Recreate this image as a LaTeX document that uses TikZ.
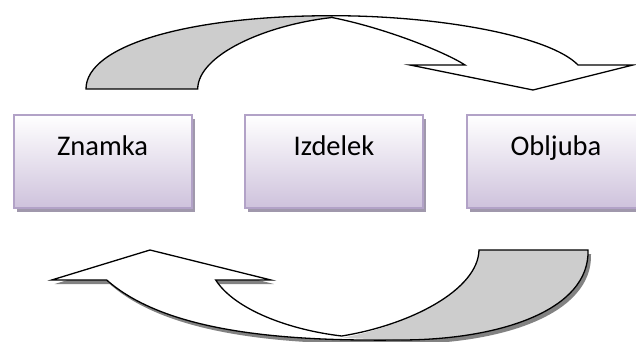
\documentclass[tikz,border=0pt]{standalone}
\usepackage{fontspec}
\setmainfont{Carlito}
\usetikzlibrary{shadows}

\definecolor{boxedge}{RGB}{178,162,199}
\definecolor{boxlow}{RGB}{206,194,220}
\definecolor{boxshade}{RGB}{160,152,172}
\definecolor{ribbon}{RGB}{205,205,205}
\definecolor{arrowshade}{RGB}{130,130,130}

\tikzset{
  stagebox/.style={
    draw=boxedge, line width=2pt, top color=white, bottom color=boxlow,
    general shadow={fill=boxshade, shadow xshift=3pt, shadow yshift=-4pt},
    inner sep=0pt, minimum width=178pt, minimum height=93.3pt,
    text height=20pt, text depth=33.3pt,
    font=\fontsize{28.5}{34}\selectfont, text=black},
  outline/.style={draw=black, line width=1.3pt, line join=miter},
}

\begin{document}
\begin{tikzpicture}[x=1pt,y=-1pt]
  \clip (0,0) rectangle (636,342);
  \fill[white] (0,0) rectangle (636,342);

  % ---- upper curved arrow (left to right) ----
  % back face of the ribbon
  \fill[ribbon] (86,89) -- (197.7,89)
      .. controls (198,55) and (265,25) .. (332,17.5)
      -- (332,15.7)
      .. controls (190,15.7) and (86,45) .. (86,89) -- cycle;
  % front face with the head
  \fill[white] (332,15.7)
      .. controls (440,15.7) and (550,36) .. (578,65)
      -- (633,65) -- (533,90) -- (410,65) -- (465,65)
      .. controls (445,52) and (385,28) .. (332,17.5) -- cycle;
  % outlines
  \draw[outline] (86,89) -- (197.7,89)
      .. controls (198,55) and (265,25) .. (332,17.5)
      .. controls (385,28) and (445,52) .. (465,65)
      -- (410,65) -- (533,90) -- (633,65) -- (578,65)
      .. controls (550,36) and (440,15.7) .. (332,15.7)
      .. controls (190,15.7) and (86,45) .. (86,89) -- cycle;

  % ---- lower curved arrow (right to left) ----
  \fill[arrowshade, xshift=3pt, yshift=-4pt] (479,250) -- (588,250)
      .. controls (590,310) and (500,340) .. (400,340)
      .. controls (300,341) and (170,336) .. (106.7,280)
      -- (51.7,280) -- (150,250) -- (271,280) -- (215.7,280)
      .. controls (235,310) and (290,330) .. (341.7,336)
      .. controls (410,325) and (478,290) .. (479,250) -- cycle;
  % whole ribbon in white
  \fill[white] (479,250) -- (588,250)
      .. controls (590,310) and (500,340) .. (400,340)
      .. controls (300,341) and (170,336) .. (106.7,280)
      -- (51.7,280) -- (150,250) -- (271,280) -- (215.7,280)
      .. controls (235,310) and (290,330) .. (341.7,336)
      .. controls (410,325) and (478,290) .. (479,250) -- cycle;
  % back face of the ribbon
  \fill[ribbon] (479,250) -- (588,250)
      .. controls (590,310) and (500,340) .. (400,340)
      -- (341.7,338)
      .. controls (410,325) and (478,290) .. (479,250) -- cycle;
  % outlines
  \draw[outline] (479,250) -- (588,250)
      .. controls (590,310) and (500,340) .. (400,340)
      .. controls (300,341) and (170,336) .. (106.7,280)
      -- (51.7,280) -- (150,250) -- (271,280) -- (215.7,280)
      .. controls (235,310) and (290,330) .. (341.7,336)
      .. controls (410,325) and (478,290) .. (479,250) -- cycle;

  % ---- the three stages ----
  \node[stagebox] (znamka)  at (102.5,161.65) {Znamka};
  \node[stagebox] (izdelek) at (334,161.65)   {Izdelek};
  \node[stagebox] (obljuba) at (556,161.65)   {Obljuba};
\end{tikzpicture}
\end{document}
